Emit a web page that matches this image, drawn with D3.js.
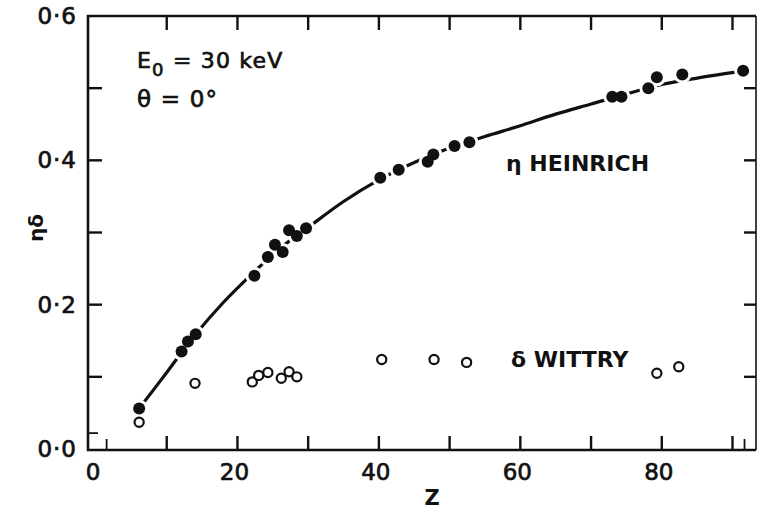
<!DOCTYPE html>
<html><head><meta charset="utf-8">
<script src="https://cdn.jsdelivr.net/npm/d3@7"></script>
<style>body{margin:0;background:#fff}svg{display:block}text{font-family:"DejaVu Sans",sans-serif;fill:#111}</style>
</head><body>
<svg id="c" width="758" height="510"></svg>
<script>
// Heinrich backscatter coefficient eta (filled circles)
const etaZ   = [6.1, 12.1, 13.0, 14.1, 22.4, 24.3, 25.3, 26.4, 27.3, 28.4, 29.7, 40.2, 42.8, 46.9, 47.7, 50.7, 52.8, 73.0, 74.3, 78.1, 79.3, 82.9, 91.5];
const etaVal = [0.056, 0.135, 0.149, 0.159, 0.240, 0.266, 0.283, 0.273, 0.303, 0.295, 0.306, 0.376, 0.387, 0.398, 0.408, 0.420, 0.425, 0.488, 0.488, 0.500, 0.515, 0.519, 0.524];
// Wittry secondary yield delta (open circles)
const deltaZ   = [6.1, 14.0, 22.1, 23.0, 24.3, 26.2, 27.3, 28.4, 40.4, 47.8, 52.4, 79.3, 82.4];
const deltaVal = [0.037, 0.091, 0.093, 0.102, 0.106, 0.098, 0.107, 0.100, 0.124, 0.124, 0.120, 0.105, 0.114];
// smooth curve through eta
const curveZ   = [6.1, 10, 14, 18, 22, 26, 30, 35, 40, 45, 50, 55, 60, 65, 70, 75, 80, 85, 91.5];
const curveVal = [0.056, 0.106, 0.158, 0.203, 0.242, 0.278, 0.307, 0.343, 0.373, 0.397, 0.417, 0.433, 0.448, 0.464, 0.478, 0.492, 0.505, 0.514, 0.524];
// ticks
const xTickVals = [10, 20, 30, 40, 50, 60, 70, 80, 90];
const xMinorBottom = [1.5, 91.7];
const xLabelVals = [0, 20, 40, 60, 80];
const yTickVals = [0.1, 0.2, 0.3, 0.4, 0.5];
const yMinorLeft = [0.022];
const yLabelVals = [0, 0.2, 0.4, 0.6];
const yLabels = ["0·0", "0·2", "0·4", "0·6"];

const svg = d3.select("#c");
const x = d3.scaleLinear().domain([0, 90]).range([96, 732.5]);
const y = d3.scaleLinear().domain([0, 0.6]).range([449, 16]);
const L = 88, R = 756, T = 16, B = 450;
const tl = 14;

// frame
const f = svg.append("g").attr("stroke", "#111").attr("fill", "none");
f.append("path").attr("d", `M${R},${T}H${L}V${B}H${R}`).attr("stroke-width", 2.6);
f.append("line").attr("x1", R).attr("x2", R).attr("y1", T).attr("y2", B).attr("stroke-width", 1.6);

// ticks (inward)
const g = svg.append("g").attr("stroke", "#111").attr("stroke-width", 2.4);
xTickVals.forEach(v => {
  g.append("line").attr("x1", x(v)).attr("x2", x(v)).attr("y1", B).attr("y2", B - tl);
  g.append("line").attr("x1", x(v)).attr("x2", x(v)).attr("y1", T).attr("y2", T + tl);
});
xMinorBottom.forEach(v => {
  g.append("line").attr("x1", x(v)).attr("x2", x(v)).attr("y1", B).attr("y2", B - 11).attr("stroke-width", 1.8);
});
yTickVals.forEach(v => {
  g.append("line").attr("x1", L).attr("x2", L + tl).attr("y1", y(v)).attr("y2", y(v));
  g.append("line").attr("x1", R).attr("x2", R - 12).attr("y1", y(v)).attr("y2", y(v));
});
yMinorLeft.forEach(v => {
  g.append("line").attr("x1", L).attr("x2", L + 10).attr("y1", y(v)).attr("y2", y(v)).attr("stroke-width", 1.8);
});

const thick = sel => sel.attr("stroke", "#111").attr("stroke-width", 0.7);

// tick labels
xLabelVals.forEach(v => {
  thick(svg.append("text").attr("x", x(v) - 3).attr("y", 480).attr("text-anchor", "middle")
    .attr("font-size", 23).text(v));
});
yLabelVals.forEach((v, i) => {
  thick(svg.append("text").attr("x", 77).attr("y", y(v) + 8).attr("text-anchor", "end")
    .attr("font-size", 23).attr("letter-spacing", 1).text(yLabels[i]));
});

// axis titles
svg.append("text").attr("x", 432).attr("y", 505).attr("text-anchor", "middle")
  .attr("font-size", 21).attr("font-weight", "bold").text("Z");
svg.append("text").attr("transform", "translate(43,228) rotate(-90)").attr("text-anchor", "middle")
  .attr("font-size", 20).attr("font-weight", "bold").text("ηδ");

// annotations
const e0 = thick(svg.append("text").attr("x", 137).attr("y", 68).attr("font-size", 22).attr("letter-spacing", 1.2));
e0.append("tspan").text("E");
e0.append("tspan").attr("font-size", 18).attr("dy", 8).text("0");
e0.append("tspan").attr("dy", -8).text(" = 30 keV");
thick(svg.append("text").attr("x", 137).attr("y", 107).attr("font-size", 23).attr("letter-spacing", 1.2).text("θ = 0°"));
svg.append("text").attr("x", 506).attr("y", 171).attr("font-size", 22).attr("font-weight", "bold")
  .text("η HEINRICH");
svg.append("text").attr("x", 511).attr("y", 367).attr("font-size", 22).attr("font-weight", "bold")
  .text("δ WITTRY");

// curve
const curvePts = curveZ.map((z, i) => [z, curveVal[i]]);
svg.append("path").datum(curvePts)
  .attr("d", d3.line().x(d => x(d[0])).y(d => y(d[1])).curve(d3.curveCatmullRom))
  .attr("fill", "none").attr("stroke", "#111").attr("stroke-width", 3.2);

// eta points: white halos then dots
const etaPts = etaZ.map((z, i) => [z, etaVal[i]]);
svg.append("g").selectAll("circle").data(etaPts).join("circle")
  .attr("cx", d => x(d[0])).attr("cy", d => y(d[1])).attr("r", 9).attr("fill", "#fff");
svg.append("g").selectAll("circle").data(etaPts).join("circle")
  .attr("cx", d => x(d[0])).attr("cy", d => y(d[1])).attr("r", 6).attr("fill", "#111");

// delta points
const deltaPts = deltaZ.map((z, i) => [z, deltaVal[i]]);
svg.append("g").selectAll("circle").data(deltaPts).join("circle")
  .attr("cx", d => x(d[0])).attr("cy", d => y(d[1])).attr("r", 4.6)
  .attr("fill", "#fff").attr("stroke", "#111").attr("stroke-width", 2.2);
</script>
</body></html>
